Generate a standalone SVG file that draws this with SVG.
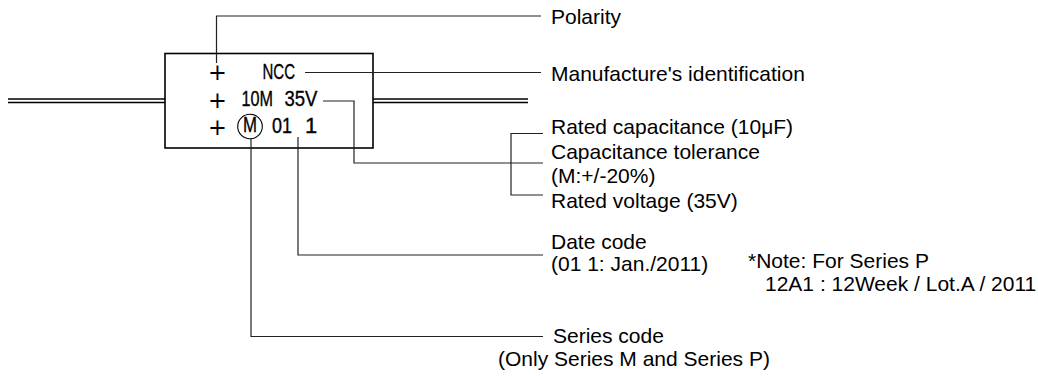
<svg xmlns="http://www.w3.org/2000/svg" width="1038" height="376" viewBox="0 0 1038 376">
<style>
.lbl{font-family:"Liberation Sans",Arial,sans-serif;font-size:21px;fill:#000}
.mk{font-family:"Liberation Sans",Arial,sans-serif;font-size:22px;fill:#000;stroke:#000;stroke-width:0.35}
.pl{font-family:"DejaVu Sans","Liberation Sans",sans-serif;font-size:22.5px;fill:#000}
.ld{fill:none;stroke:#222;stroke-width:1.2}
.box{fill:#fff;stroke:#000;stroke-width:1.6}
.lead{stroke:#000;stroke-width:1.6}
</style>
<rect width="1038" height="376" fill="#fff"/>
<g id="leads">
<line class="lead" x1="8" y1="99" x2="165" y2="99"/>
<line class="lead" x1="8" y1="102.5" x2="165" y2="102.5"/>
<line class="lead" x1="373" y1="99" x2="528" y2="99"/>
<line class="lead" x1="373" y1="102.5" x2="528" y2="102.5"/>
</g>
<g id="capacitor">
<rect class="box" x="165" y="53.5" width="208" height="94.5"/>
<text class="pl" x="217.5" y="79.5" text-anchor="middle">+</text>
<text class="pl" x="217.5" y="108" text-anchor="middle">+</text>
<text class="pl" x="217.5" y="134.5" text-anchor="middle">+</text>
<text class="mk" x="262.5" y="79" textLength="32.5" lengthAdjust="spacingAndGlyphs">NCC</text>
<text class="mk" x="241.5" y="106" textLength="31.5" lengthAdjust="spacingAndGlyphs">10M</text>
<text class="mk" x="284.5" y="106" textLength="33" lengthAdjust="spacingAndGlyphs">35V</text>
<circle cx="250" cy="126.5" r="12.3" fill="none" stroke="#000" stroke-width="1.1"/>
<text class="mk" x="250" y="132" text-anchor="middle" font-size="15" textLength="14" lengthAdjust="spacingAndGlyphs" stroke-width="0.2">M</text>
<text class="mk" x="272" y="133" textLength="20" lengthAdjust="spacingAndGlyphs">01</text>
<text class="mk" x="305" y="133">1</text>
</g>
<g id="connectors">
<path class="ld" d="M216.5,63 V16 H541"/>
<path class="ld" d="M305,72.5 H541"/>
<path class="ld" d="M323,101 H354 V163 H543"/>
<path class="ld" d="M543,133.5 H511 V195 H543"/>
<path class="ld" d="M298,137 V255 H543"/>
<path class="ld" d="M251,139 V336.5 H543"/>
</g>
<g id="polarity"><text class="lbl" x="551" y="23.5">Polarity</text></g>
<g id="manufacturer"><text class="lbl" x="551" y="80.5">Manufacture's identification</text></g>
<g id="rating">
<text class="lbl" x="551" y="134">Rated capacitance (10μF)</text>
<text class="lbl" x="551" y="158.5">Capacitance tolerance</text>
<text class="lbl" x="551" y="183">(M:+/-20%)</text>
<text class="lbl" x="551" y="208">Rated voltage (35V)</text>
</g>
<g id="datecode">
<text class="lbl" x="551" y="248.5">Date code</text>
<text class="lbl" x="551" y="271">(01 1: Jan./2011)</text>
</g>
<g id="note">
<text class="lbl" x="748" y="268">*Note: For Series P</text>
<text class="lbl" x="765" y="291">12A1 : 12Week / Lot.A / 2011</text>
</g>
<g id="seriescode">
<text class="lbl" x="553" y="343">Series code</text>
<text class="lbl" x="498" y="366">(Only Series M and Series P)</text>
</g>
</svg>
